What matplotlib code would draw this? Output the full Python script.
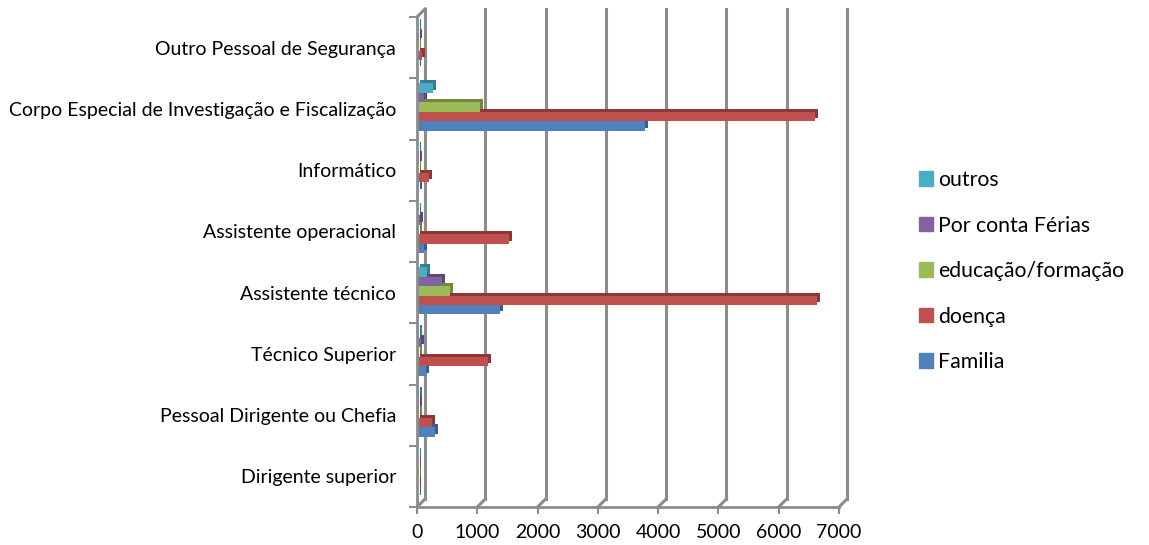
import matplotlib
matplotlib.use("Agg")
import matplotlib.pyplot as plt
import matplotlib.transforms as mtransforms
from matplotlib.patches import Patch
import numpy as np

plt.rcParams["font.family"] = ["Lato", "DejaVu Sans"]

categorias = [
    "Dirigente superior",
    "Pessoal Dirigente ou Chefia",
    "Técnico Superior",
    "Assistente técnico",
    "Assistente operacional",
    "Informático",
    "Corpo Especial de Investigação e Fiscalização",
    "Outro Pessoal de Segurança",
]

familia = [10, 300, 150, 1380, 120, 30, 3780, 20]
doenca = [15, 250, 1180, 6630, 1530, 200, 6600, 80]
educacao = [10, 30, 40, 550, 40, 20, 1050, 20]
por_conta_ferias = [15, 40, 60, 420, 50, 30, 110, 30]
outros = [10, 40, 30, 170, 20, 20, 270, 20]

series = [
    ("Familia", familia, "#4F81BD", "#385D8A"),
    ("doença", doenca, "#C0504D", "#8C3836"),
    ("educação/formação", educacao, "#9BBB59", "#71893F"),
    ("Por conta Férias", por_conta_ferias, "#8064A2", "#5C4776"),
    ("outros", outros, "#4BACC6", "#357D91"),
]

grid_color = "#8C8C8C"
depth = 8 / 100  # back wall offset in inches

fig = plt.figure(figsize=(11.49, 5.45), dpi=100)
ax = fig.add_axes([417 / 1149, 1 - 507 / 545, 422 / 1149, 490 / 545])

y = np.arange(len(categorias))
bar_h = 0.154
back = ax.transData + mtransforms.ScaledTranslation(depth, depth, fig.dpi_scale_trans)
side = ax.transData + mtransforms.ScaledTranslation(3 / 100, 3 / 100, fig.dpi_scale_trans)

ax.set_xlim(0, 7000)
ax.set_ylim(-0.5, len(categorias) - 0.5)
xticks = np.arange(0, 7001, 1000)

# back wall grid and floor
for xv in xticks:
    ax.plot([xv, xv], [-0.5, len(categorias) - 0.5], color=grid_color, lw=2.2,
            transform=back, clip_on=False, zorder=0)
    p0 = ax.transData.transform((xv, -0.5))
    p1 = back.transform((xv, -0.5))
    ax.add_line(plt.Line2D([p0[0], p1[0]], [p0[1], p1[1]], color=grid_color, lw=2.2,
                           transform=None, clip_on=False, zorder=0))
# left wall back edge and top
ax.plot([0, 0], [-0.5, len(categorias) - 0.5], color=grid_color, lw=2.2,
        transform=back, clip_on=False, zorder=0)
t0 = ax.transData.transform((0, len(categorias) - 0.5))
t1 = back.transform((0, len(categorias) - 0.5))
ax.add_line(plt.Line2D([t0[0], t1[0]], [t0[1], t1[1]], color=grid_color, lw=2.2,
                       transform=None, clip_on=False, zorder=0))

for i, (nome, vals, cor, escura) in enumerate(series):
    pos = y + (i - 2) * bar_h + 0.03
    ax.barh(pos, vals, height=bar_h, color=escura, transform=side, zorder=2 + i * 0.1)
    ax.barh(pos, vals, height=bar_h, color=cor, zorder=2.05 + i * 0.1)

for s in ["top", "right"]:
    ax.spines[s].set_visible(False)
for s in ["left", "bottom"]:
    ax.spines[s].set_color(grid_color)
    ax.spines[s].set_linewidth(2)

ax.set_xticks(xticks)
ax.set_xticklabels([str(v) for v in xticks], fontsize=14)
ax.tick_params(axis="x", length=5, width=1.5, color=grid_color, pad=7)
ax.set_yticks(y)
ax.set_yticklabels(categorias, fontsize=14)
ax.tick_params(axis="y", which="major", length=0, pad=15)
ax.set_yticks(np.arange(-0.5, len(categorias)), minor=True)
ax.tick_params(axis="y", which="minor", length=6, width=1.5, color=grid_color)
ax.set_facecolor("none")

handles = [Patch(facecolor=c, edgecolor=c, label=n) for n, _, c, _ in reversed(series)]
fig.legend(handles=handles, loc="center left", bbox_to_anchor=(908 / 1149, 1 - 271 / 545),
           frameon=False, fontsize=15.3, handlelength=0.66, handleheight=0.66,
           handletextpad=0.25, labelspacing=1.2, borderpad=0)

fig.savefig("out.png", dpi=100)
